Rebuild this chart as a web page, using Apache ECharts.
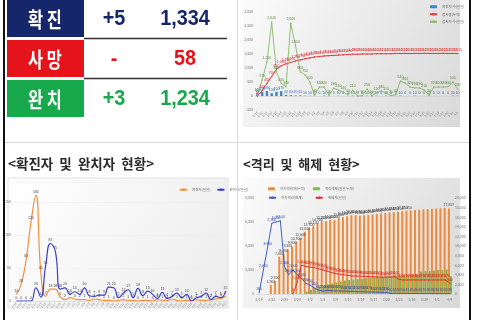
<!DOCTYPE html>
<html><head><meta charset="utf-8">
<script src="https://cdn.jsdelivr.net/npm/echarts@6/dist/echarts.min.js"></script>
<style>html,body{margin:0;padding:0;background:#fff}#c{width:480px;height:320px}</style>
</head><body><div id="c"></div>
<script>
// ---- data ----
const dates = ['2/19','2/20','2/21','2/22','2/23','2/24','2/25','2/26','2/27','2/28','2/29',
 '3/1','3/2','3/3','3/4','3/5','3/6','3/7','3/8','3/9','3/10','3/11','3/12','3/13','3/14','3/15',
 '3/16','3/17','3/18','3/19','3/20','3/21','3/22','3/23','3/24','3/25','3/26','3/27','3/28','3/29',
 '3/30','3/31','4/1','4/2','4/3','4/4','4/5'];

// summary table
const tableRows = ['확 진','사 망','완 치'];
const tableDelta = ['+5','-','+3'];
const tableTotal = ['1,334','58','1,234'];

// top-right chart (43 days)
const trCats = dates.slice(0, 43);
const trBlue = [120,150,180,100,150,170,40,30,20,20,10,10,10,0,10,0,0,10,0,0,10,0,0,10,0,10,0,10,0,0,10,0,0,10,0,0,10,0,0,0,0,10,10];
const trRed = [0,200,450,700,950,1080,1150,1200,1250,1290,1330,1360,1390,1410,1430,1440,1450,1460,1470,1480,1490,1490,1500,1500,1500,1510,1510,1510,1510,1520,1520,1520,1515,1520,1520,1525,1520,1520,1520,1525,1520,1520,1515];
const trGreen = [30,570,1210,2640,860,450,330,2600,1800,860,750,500,40,320,320,20,280,210,140,40,210,0,10,250,10,110,180,110,20,40,540,460,320,290,290,210,30,320,320,320,330,500,250];
const trNames = ['확진자 수(일일)','검사중(누적)','검사자 수(일일)'];

// bottom-left chart (44 days)
const blCats = dates.slice(0, 44);
const blConfirmed = [10,26,63,120,160,45,7,18,18,6,2,5,3,2,2,1,3,2,1,1,0,1,2,1,1,0,1,1,0,2,1,1,3,1,0,1,1,2,1,1,2,3,4,7];
const blRecovered = [0,0,0,0,20,6,53,87,75,18,20,10,14,10,20,8,7,9,9,21,20,5,12,17,5,19,8,15,10,4,13,4,7,12,5,10,0,5,7,12,2,7,5,15];
const blNames = ['확진자(일일)','완치자(일일)'];

// bottom-right chart (46 days)
const brCats = dates.slice(0, 46);
const brIsolTotal = [null,null,null,1900,2700,7800,8400,9300,9900,10900,11600,13000,13700,14100,14700,15200,15200,15400,15400,15800,16000,16200,16400,16400,
 16300,16400,16500,16600,16700,16800,16900,17000,17050,17150,17250,17350,17400,17500,17550,17650,17700,17750,17800,17850,17900,17817];
const brReleased = [null,null,null,null,null,null,null,null,null,null,null,500,900,1200,1500,1800,2000,2200,2400,2600,2800,2900,3000,3100,3200,3300,3400,3500,3500,3600,3700,3700,3800,3800,3900,3900,4000,4000,4700,4800,4800,4900,5000,5000,5100,3700];
const brIsolNow = [100,2000,3900,5900,6000,6100,2300,1600,2000,1600,1300,900,750,500,330,250,300,280,260,250,240,230,220,200,190,180,170,160,150,140,130,60,55,50,50,45,45,40,40,35,35,30,30,30,30,30];
const brRelDaily = [null,null,null,null,null,null,null,null,0,1000,2400,2300,2250,2200,2100,2000,1900,1800,1700,1650,1600,1550,1500,1500,1480,1460,1450,1440,1420,1400,1400,1420,1440,1200,1170,1170,1170,1170,1170,1170,1170,1170,1170,1170,1170,900];
const brNames = ['자가격리자(누적)','격리해제(일일 누계)','자가격리(현재)','해제자(일일)'];
const brLabelledUpTo = 35; // orange bar labels shown up to this index, plus the last bar

// ---- helpers ----
const fmt = v => (v === null || v === undefined) ? '' : String(v).replace(/\B(?=(\d{3})+(?!\d))/g, ',');
const tiny = {fontSize: 3.5, color: '#777', fontFamily: 'Noto Sans CJK KR'};
function lbl(color, size, fm) {
  return {show: true, position: 'top', fontSize: size || 3.5, color: color, distance: 1,
    formatter: fm || (p => fmt(p.value)), fontFamily: 'Liberation Sans'};
}
function grad(a, b) {
  return {type: 'linear', x: 0, y: 0, x2: 1, y2: 1, colorStops: [{offset: 0, color: a}, {offset: 1, color: b}]};
}

const NAVY = '#16266a', RED = '#e5141b', GREEN = '#17a94b';
const rowColors = [NAVY, RED, GREEN];
const rowY = [0, 40, 80];

const graphics = [
  // panel backgrounds
  {type: 'rect', shape: {x: 243, y: 0, width: 217, height: 127}, style: {fill: grad('#fbfbfb', '#d9d9d9')}, z: 0},
  {type: 'rect', shape: {x: 8, y: 178, width: 220, height: 130}, style: {fill: grad('#ffffff', '#ececec'), stroke: '#e2e2e2', lineWidth: 1}, z: 0},
  {type: 'rect', shape: {x: 243, y: 178, width: 217, height: 130}, style: {fill: grad('#fbfbfb', '#d9d9d9')}, z: 0},
  // frame lines
  {type: 'rect', shape: {x: 3, y: 0, width: 2, height: 320}, style: {fill: '#111'}, z: 5},
  {type: 'rect', shape: {x: 469, y: 0, width: 2, height: 320}, style: {fill: '#111'}, z: 5},
  {type: 'line', shape: {x1: 237.5, y1: 0, x2: 237.5, y2: 320}, style: {stroke: '#d8d8d8', lineWidth: 1}, z: 5},
  {type: 'line', shape: {x1: 5, y1: 142.5, x2: 469, y2: 142.5}, style: {stroke: '#d8d8d8', lineWidth: 1}, z: 5},
  // titles
  {type: 'text', x: 8, y: 164, style: {text: '<확진자  및  완치자  현황>', fontSize: 13.5, fontWeight: 'bold', fill: '#2b2b2b', fontFamily: 'Noto Sans CJK KR', verticalAlign: 'middle'}, z: 5},
  {type: 'text', x: 243, y: 164, style: {text: '<격리  및  해제  현황>', fontSize: 13, fontWeight: 'bold', fill: '#2b2b2b', fontFamily: 'Noto Sans CJK KR', verticalAlign: 'middle'}, z: 5}
];
tableRows.forEach((t, i) => {
  const y0 = rowY[i];
  graphics.push({type: 'rect', shape: {x: 7, y: y0, width: 77, height: 37}, style: {fill: rowColors[i]}, z: 1});
  graphics.push({type: 'text', x: 45, y: y0 + 19, scaleX: 0.78, style: {text: t, fontSize: 21, fontWeight: 'bold', fill: '#fff', fontFamily: 'Noto Sans CJK KR', align: 'center', verticalAlign: 'middle'}, z: 2});
  graphics.push({type: 'text', x: 114, y: y0 + 19, scaleX: 0.9, style: {text: tableDelta[i], fontSize: 22, fontWeight: 'bold', fill: rowColors[i], fontFamily: 'Liberation Sans', align: 'center', verticalAlign: 'middle'}, z: 2});
  graphics.push({type: 'text', x: 185, y: y0 + 19, scaleX: 0.9, style: {text: tableTotal[i], fontSize: 22, fontWeight: 'bold', fill: rowColors[i], fontFamily: 'Liberation Sans', align: 'center', verticalAlign: 'middle'}, z: 2});
  if (i < 2) graphics.push({type: 'line', shape: {x1: 84, y1: y0 + 38.5, x2: 227, y2: y0 + 38.5}, style: {stroke: '#333', lineWidth: 1.5}, z: 2});
});

const axLine = {show: true, lineStyle: {color: '#c8c8c8', width: 0.5}};
const option = {
  animation: false,
  textStyle: {fontFamily: 'Noto Sans CJK KR'},
  graphic: {elements: graphics},
  legend: [
    {orient: 'vertical', left: 424, top: 0, itemGap: 4, itemWidth: 7, itemHeight: 3, textStyle: {fontSize: 3.5, color: '#666'}, data: trNames},
    {left: 174, top: 183, itemGap: 6, itemWidth: 7, itemHeight: 3, textStyle: {fontSize: 3.5, color: '#666'}, data: blNames},
    {left: 263, top: 182, itemGap: 8, itemWidth: 7, itemHeight: 3, textStyle: {fontSize: 3.5, color: '#666'}, data: brNames.slice(0, 2)},
    {left: 263, top: 191, itemGap: 12, itemWidth: 7, itemHeight: 3, textStyle: {fontSize: 3.5, color: '#666'}, data: brNames.slice(2)}
  ],
  grid: [
    {left: 255, top: 12, width: 205, height: 98},
    {left: 14, top: 182, width: 214, height: 119},
    {left: 257, top: 198, width: 195, height: 96}
  ],
  xAxis: [
    {type: 'category', gridIndex: 0, data: trCats, axisLine: axLine, axisTick: {show: false}, axisLabel: Object.assign({rotate: 45, interval: 0, margin: 2}, tiny, {fontSize: 3})},
    {type: 'category', gridIndex: 1, data: blCats, axisLine: axLine, axisTick: {show: false}, axisLabel: Object.assign({rotate: 45, interval: 0, margin: 2}, tiny, {fontSize: 3})},
    {type: 'category', gridIndex: 2, data: brCats, axisLine: axLine, axisTick: {show: false}, axisLabel: Object.assign({interval: 2, margin: 4}, tiny)}
  ],
  yAxis: [
    {type: 'value', gridIndex: 0, min: -500, max: 3000, interval: 500, splitLine: {show: false}, axisLabel: Object.assign({margin: 2, formatter: fmt}, tiny)},
    {type: 'value', gridIndex: 1, min: 0, max: 180, interval: 50, splitLine: {lineStyle: {color: '#ececec', width: 0.5}}, axisLabel: Object.assign({margin: 3, showMaxLabel: false}, tiny)},
    {type: 'value', gridIndex: 2, min: 0, max: 8000, interval: 2000, splitLine: {show: false}, axisLabel: Object.assign({margin: 3}, tiny)},
    {type: 'value', gridIndex: 2, position: 'right', min: 0, max: 20000, interval: 2000, splitLine: {show: false}, axisLabel: Object.assign({margin: 3}, tiny)}
  ],
  series: [
    {name: trNames[0], type: 'bar', xAxisIndex: 0, yAxisIndex: 0, data: trBlue, barWidth: 2.5, itemStyle: {color: '#3f86cf'}, label: lbl('#2b6cb0')},
    {name: trNames[1], type: 'line', xAxisIndex: 0, yAxisIndex: 0, data: trRed, symbol: 'circle', symbolSize: 1.5, lineStyle: {color: '#e03a3a', width: 1}, itemStyle: {color: '#e03a3a'}, label: lbl('#d42a2a')},
    {name: trNames[2], type: 'line', xAxisIndex: 0, yAxisIndex: 0, data: trGreen, symbol: 'circle', symbolSize: 1.5, lineStyle: {color: '#88b868', width: 0.9}, itemStyle: {color: '#88b868'}, label: lbl('#5b8c3c')},

    {name: blNames[0], type: 'line', xAxisIndex: 1, yAxisIndex: 1, data: blConfirmed, smooth: true, symbol: 'circle', symbolSize: 0.5, lineStyle: {color: '#f0913f', width: 1.2}, itemStyle: {color: '#f0913f'}, label: lbl('#444', 3.5)},
    {name: blNames[1], type: 'line', xAxisIndex: 1, yAxisIndex: 1, data: blRecovered, smooth: true, symbol: 'circle', symbolSize: 0.5, lineStyle: {color: '#3d3fcc', width: 1.2}, itemStyle: {color: '#3d3fcc'}, label: lbl('#444', 3.5)},

    {name: brNames[0], type: 'bar', xAxisIndex: 2, yAxisIndex: 3, data: brIsolTotal, barWidth: 2, barGap: '0%', itemStyle: {color: '#ee8a3c'},
      label: lbl('#444', 3.5, p => (p.dataIndex <= brLabelledUpTo || p.dataIndex === brIsolTotal.length - 1) ? fmt(p.value) : '')},
    {name: brNames[1], type: 'bar', xAxisIndex: 2, yAxisIndex: 3, data: brReleased, barWidth: 2, barGap: '0%', itemStyle: {color: '#7cb84a'}},
    {name: brNames[2], type: 'line', xAxisIndex: 2, yAxisIndex: 2, data: brIsolNow, symbol: 'circle', symbolSize: 1, lineStyle: {color: '#3f5fc6', width: 1}, itemStyle: {color: '#3f5fc6'}, label: lbl('#2e49a8')},
    {name: brNames[3], type: 'line', xAxisIndex: 2, yAxisIndex: 2, data: brRelDaily, symbol: 'circle', symbolSize: 1, lineStyle: {color: '#e33434', width: 1}, itemStyle: {color: '#e33434'}, label: lbl('#d42a2a')}
  ]
};
const chart = echarts.init(document.getElementById('c'), null, {renderer: 'canvas'});
chart.setOption(option);
</script></body></html>
